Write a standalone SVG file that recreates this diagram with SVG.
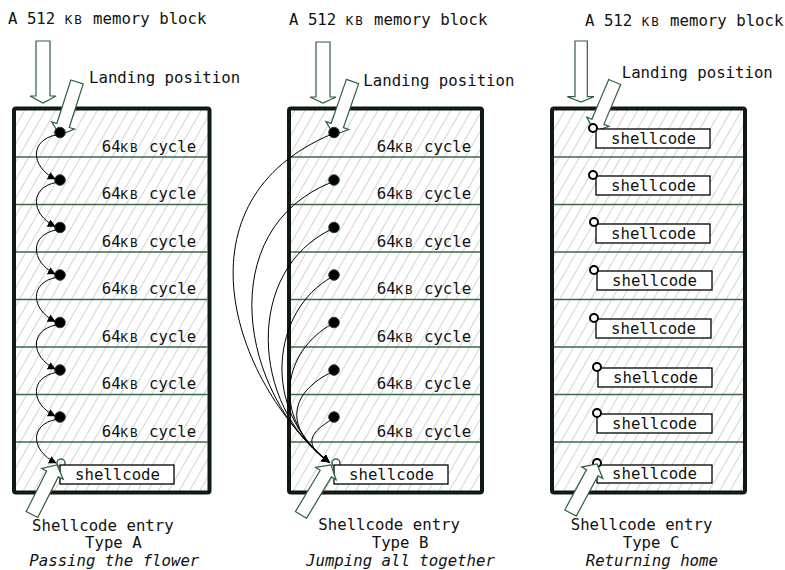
<svg xmlns="http://www.w3.org/2000/svg" width="785" height="570" viewBox="0 0 785 570">
<defs>
  <pattern id="hatch" width="9" height="9" patternUnits="userSpaceOnUse" patternTransform="rotate(30)">
    <line x1="4.5" y1="0" x2="4.5" y2="9" stroke="#d4d4d4" stroke-width="1"/>
  </pattern>
  <marker id="ah" viewBox="0 0 10 10" refX="9" refY="5" markerWidth="8" markerHeight="8" markerUnits="userSpaceOnUse" orient="auto">
    <path d="M0,0 L10,5 L0,10 z" fill="#000"/>
  </marker>
  <style>
    .t { font-family: "DejaVu Sans Mono", "Liberation Mono", monospace; font-size: 15.7px; fill: #111; }
    .it { font-style: italic; }
    .kb { font-size: 12.5px; letter-spacing: 1.95px; }
    .block { fill: url(#hatch); stroke: #101a12; stroke-width: 4; }
    .row { stroke: #3b6b4a; stroke-width: 1.5; }
    .barrow { fill: #fff; stroke: #2e5e3e; stroke-width: 1.2; stroke-linejoin: miter; }
    .dot { fill: #000; stroke: #1d4a2c; stroke-width: 1; }
    .ring { fill: none; stroke: #2e6e3e; stroke-width: 1.5; }
    .oring { fill: #fff; stroke: #000; stroke-width: 2; }
    .box { fill: #fff; stroke: #000; stroke-width: 1.3; }
    .jump { fill: none; stroke: #000; stroke-width: 1; marker-end: url(#ah); }
  </style>
</defs>
<rect width="785" height="570" fill="#fff"/>

<!-- ============ Column A ============ -->
<g id="colA">
  <text class="t" x="8" y="24">A 512 <tspan class="kb">KB</tspan> memory block</text>
  <polygon class="barrow" points="36,41 50,41 50,96 56,96 43,103 30,96 36,96"/>
  <text class="t" x="89" y="83">Landing position</text>
  <rect class="block" x="14" y="108.5" width="195.5" height="384" rx="2"/>
  <g class="rows">
    <line class="row" x1="16" y1="157" x2="207.5" y2="157"/>
    <line class="row" x1="16" y1="204.5" x2="207.5" y2="204.5"/>
    <line class="row" x1="16" y1="252" x2="207.5" y2="252"/>
    <line class="row" x1="16" y1="299.5" x2="207.5" y2="299.5"/>
    <line class="row" x1="16" y1="347" x2="207.5" y2="347"/>
    <line class="row" x1="16" y1="394.5" x2="207.5" y2="394.5"/>
    <line class="row" x1="16" y1="442" x2="207.5" y2="442"/>
  </g>
  <g class="labels">
    <text class="t" x="101.7" y="151.7">64<tspan class="kb">KB</tspan> cycle</text>
    <text class="t" x="101.7" y="199.2">64<tspan class="kb">KB</tspan> cycle</text>
    <text class="t" x="101.7" y="246.7">64<tspan class="kb">KB</tspan> cycle</text>
    <text class="t" x="101.7" y="294.2">64<tspan class="kb">KB</tspan> cycle</text>
    <text class="t" x="101.7" y="341.7">64<tspan class="kb">KB</tspan> cycle</text>
    <text class="t" x="101.7" y="389.2">64<tspan class="kb">KB</tspan> cycle</text>
    <text class="t" x="101.7" y="436.7">64<tspan class="kb">KB</tspan> cycle</text>
  </g>
  <polygon class="barrow" points="-6.5,-55.7 6.5,-55.7 6.5,-10 12,-10 0,0 -12,-10 -6.5,-10" transform="translate(60,135) rotate(17.8)"/>
  <g class="dots">
    <circle class="dot" cx="60" cy="132.5" r="5.3"/>
    <circle class="dot" cx="60" cy="180" r="5.3"/>
    <circle class="dot" cx="60" cy="227.5" r="5.3"/>
    <circle class="dot" cx="60" cy="275" r="5.3"/>
    <circle class="dot" cx="60" cy="322.5" r="5.3"/>
    <circle class="dot" cx="60" cy="370" r="5.3"/>
    <circle class="dot" cx="60" cy="417" r="5.3"/>
    <circle class="ring" cx="61" cy="463" r="4"/>
  </g>
  <g id="shellA">
    <rect class="box" x="60" y="465" width="114" height="19"/>
    <text class="t" x="75" y="480">shellcode</text>
  </g>
  <polygon class="barrow" points="-6.5,-55.5 6.5,-55.5 6.5,-10 12,-10 0,0 -12,-10 -6.5,-10" transform="translate(57,465) rotate(206.8)"/>
  <text class="t" x="32" y="530.5">Shellcode entry</text>
  <text class="t" x="85" y="548">Type A</text>
  <text class="t it" x="29.3" y="565.5">Passing the flower</text>
</g>

<!-- ============ Column B ============ -->
<g id="colB">
  <text class="t" x="289" y="25">A 512 <tspan class="kb">KB</tspan> memory block</text>
  <polygon class="barrow" points="316,42 330,42 330,97 336,97 323,103 310,97 316,97"/>
  <text class="t" x="363.3" y="85.5">Landing position</text>
  <rect class="block" x="289" y="108.5" width="193" height="384" rx="2"/>
  <g class="rows">
    <line class="row" x1="291" y1="157" x2="480" y2="157"/>
    <line class="row" x1="291" y1="204.5" x2="480" y2="204.5"/>
    <line class="row" x1="291" y1="252" x2="480" y2="252"/>
    <line class="row" x1="291" y1="299.5" x2="480" y2="299.5"/>
    <line class="row" x1="291" y1="347" x2="480" y2="347"/>
    <line class="row" x1="291" y1="394.5" x2="480" y2="394.5"/>
    <line class="row" x1="291" y1="442" x2="480" y2="442"/>
  </g>
  <g class="labels">
    <text class="t" x="376.7" y="151.7">64<tspan class="kb">KB</tspan> cycle</text>
    <text class="t" x="376.7" y="199.2">64<tspan class="kb">KB</tspan> cycle</text>
    <text class="t" x="376.7" y="246.7">64<tspan class="kb">KB</tspan> cycle</text>
    <text class="t" x="376.7" y="294.2">64<tspan class="kb">KB</tspan> cycle</text>
    <text class="t" x="376.7" y="341.7">64<tspan class="kb">KB</tspan> cycle</text>
    <text class="t" x="376.7" y="389.2">64<tspan class="kb">KB</tspan> cycle</text>
    <text class="t" x="376.7" y="436.7">64<tspan class="kb">KB</tspan> cycle</text>
  </g>
  <polygon class="barrow" points="-6.5,-56.6 6.5,-56.6 6.5,-10 12,-10 0,0 -12,-10 -6.5,-10" transform="translate(334,135) rotate(19.1)"/>
  <g class="dots">
    <circle class="dot" cx="334" cy="132.5" r="5.3"/>
    <circle class="dot" cx="334" cy="180" r="5.3"/>
    <circle class="dot" cx="334" cy="227.5" r="5.3"/>
    <circle class="dot" cx="334" cy="275" r="5.3"/>
    <circle class="dot" cx="334" cy="322.5" r="5.3"/>
    <circle class="dot" cx="334" cy="370" r="5.3"/>
    <circle class="dot" cx="334" cy="417" r="5.3"/>
    <circle class="ring" cx="336" cy="463" r="4"/>
  </g>
  <g id="shellB">
    <rect class="box" x="334" y="465" width="114" height="19"/>
    <text class="t" x="349" y="480">shellcode</text>
  </g>
  <polygon class="barrow" points="-6.5,-58.3 6.5,-58.3 6.5,-10 12,-10 0,0 -12,-10 -6.5,-10" transform="translate(331,465) rotate(211)"/>
  <text class="t" x="318.3" y="530">Shellcode entry</text>
  <text class="t" x="371.7" y="548">Type B</text>
  <text class="t it" x="306" y="566">Jumping all together</text>
</g>

<!-- ============ Column C ============ -->
<g id="colC">
  <text class="t" x="585" y="26">A 512 <tspan class="kb">KB</tspan> memory block</text>
  <polygon class="barrow" points="575,41 587.3,41 587.3,96.7 594,96.7 581,102 567.3,96.7 575,96.7"/>
  <text class="t" x="621.7" y="78">Landing position</text>
  <rect class="block" x="552" y="108.5" width="193" height="384" rx="2"/>
  <g class="rows">
    <line class="row" x1="554" y1="157" x2="743" y2="157"/>
    <line class="row" x1="554" y1="204.5" x2="743" y2="204.5"/>
    <line class="row" x1="554" y1="252" x2="743" y2="252"/>
    <line class="row" x1="554" y1="299.5" x2="743" y2="299.5"/>
    <line class="row" x1="554" y1="347" x2="743" y2="347"/>
    <line class="row" x1="554" y1="394.5" x2="743" y2="394.5"/>
    <line class="row" x1="554" y1="442" x2="743" y2="442"/>
  </g>
  <polygon class="barrow" points="-6.5,-53.2 6.5,-53.2 6.5,-10 12,-10 0,0 -12,-10 -6.5,-10" transform="translate(594,131) rotate(22.9)"/>
  <g id="shellC1"><rect class="box" x="596" y="129" width="114" height="19"/><text class="t" x="611" y="143.5">shellcode</text><circle class="oring" cx="593" cy="128" r="4"/></g>
  <g id="shellC2"><rect class="box" x="596" y="176" width="114" height="19"/><text class="t" x="611" y="190.5">shellcode</text><circle class="oring" cx="593" cy="175" r="4"/></g>
  <g id="shellC3"><rect class="box" x="596" y="224" width="114" height="19"/><text class="t" x="611" y="238.5">shellcode</text><circle class="oring" cx="594" cy="222" r="4"/></g>
  <g id="shellC4"><rect class="box" x="597" y="271" width="115" height="19"/><text class="t" x="612" y="285.5">shellcode</text><circle class="oring" cx="594" cy="270" r="4"/></g>
  <g id="shellC5"><rect class="box" x="596" y="319" width="115" height="19"/><text class="t" x="611" y="333.5">shellcode</text><circle class="oring" cx="594" cy="318" r="4"/></g>
  <g id="shellC6"><rect class="box" x="598" y="368" width="114" height="19"/><text class="t" x="613" y="382.5">shellcode</text><circle class="oring" cx="597" cy="367" r="4"/></g>
  <g id="shellC7"><rect class="box" x="597" y="414" width="115" height="19"/><text class="t" x="612" y="428.5">shellcode</text><circle class="oring" cx="597" cy="413" r="4"/></g>
  <g id="shellC8"><rect class="box" x="597" y="465" width="115" height="18"/><text class="t" x="612" y="479">shellcode</text><circle class="oring" cx="597" cy="463" r="4"/></g>
  <polygon class="barrow" points="-6.5,-55.7 6.5,-55.7 6.5,-10 12,-10 0,0 -12,-10 -6.5,-10" transform="translate(597,464) rotate(208.4)"/>
  <text class="t" x="570.7" y="530">Shellcode entry</text>
  <text class="t" x="622.7" y="548">Type C</text>
  <text class="t it" x="585.7" y="565.5">Returning home</text>
</g>

<!-- ============ Connectors ============ -->
<g id="connectors">
  <path class="jump" d="M56,135 C30,140 30,166 55,179"/>
  <path class="jump" d="M56,182.5 C30,187.5 30,213.5 55,226.5"/>
  <path class="jump" d="M56,230 C30,235 30,261 55,274"/>
  <path class="jump" d="M56,277.5 C30,282.5 30,308.5 55,321.5"/>
  <path class="jump" d="M56,325 C30,330 30,356 55,369"/>
  <path class="jump" d="M56,372.5 C30,377.5 30,403.5 55,416"/>
  <path class="jump" d="M56,419.5 C30,424.5 30,450 56,463"/>

  <path class="jump" d="M332,134 C174,200 230,380 329,462"/>
  <path class="jump" d="M332,182 C212,230 240,395 329,462"/>
  <path class="jump" d="M332,229 C245,270 250,405 329,462"/>
  <path class="jump" d="M332,277 C272,310 260,410 329,462"/>
  <path class="jump" d="M332,324 C285,350 268,415 329,462"/>
  <path class="jump" d="M332,372 C294,390 278,425 329,462"/>
  <path class="jump" d="M332,419 C320,428 295,440 329,462"/>
</g>
</svg>
